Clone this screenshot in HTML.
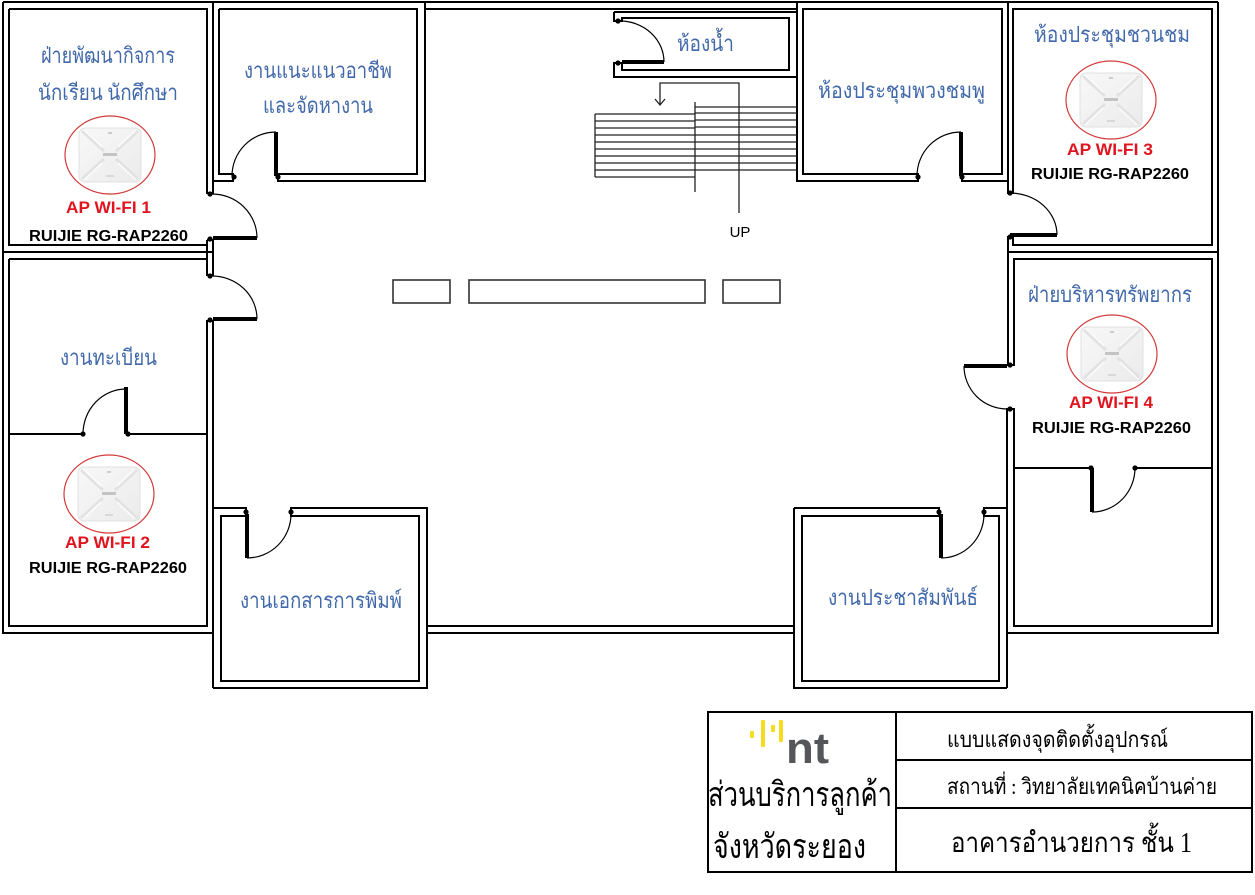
<!DOCTYPE html>
<html>
<head>
<meta charset="utf-8">
<style>
  html,body{margin:0;padding:0;background:#fff;}
  svg{display:block;}
  .th{font-family:"Liberation Serif","DejaVu Serif","Noto Serif CJK SC",serif;fill:#4169aa;font-size:22px;}
  .tb{font-family:"Liberation Serif","DejaVu Serif","Noto Serif CJK SC",serif;fill:#000;}
  .ap{font-family:"Liberation Sans",sans-serif;font-weight:bold;fill:#e0141e;font-size:17px;}
  .rj{font-family:"Liberation Sans",sans-serif;font-weight:bold;fill:#000;font-size:16px;}
</style>
</head>
<body>
<svg width="1255" height="895" viewBox="0 0 1255 895" xmlns="http://www.w3.org/2000/svg">
  <rect width="1255" height="895" fill="#fff"/>

  <!-- walls -->
  <path fill="none" stroke="#000" stroke-width="2" d="
    M3 2 H1218
    M3 2 V633 H213
    M1218 2 V633 H1007
    M9 9 H207 V193 H213 V2
    M9 9 V245 H207
    M3 252 H213
    M207 240 V275 H213 V240 H207
    M9 259 H207
    M9 259 V626 H207 V321 H213
    M213 321 V688
    M9 434 H83
    M128 434 H207
    M219 9 H417 V174 H278 V181 H425 V2
    M219 9 V174 H233 V181 H213
    M425 9 H797
    M614 12 H797
    M614 12 V21 H622 V18 H789 V70 H622 V63 H614 V77 H797
    M797 2 V181 H918 V174 H803 V9 H1002 V174 H962 V181 H1008 V2
    M1008 181 V193 H1013 V9 H1212 V245 H1013 V237 H1008 V365 H1014 V259 H1212 V626 H1014 V409 H1007 V688
    M1008 252 H1218
    M1014 468 H1091
    M1135 468 H1212
    M794 508 V688 H1007
    M794 508 H939 V516 H802 V681 H999 V516 H984 V508 H1007
    M213 688 H427 V508 H291 V516 H419 V681 H221 V516 H246 V508 H213
    M427 626 H794
    M427 633 H794
  "/>

  <!-- door leaves -->
  <path fill="none" stroke="#000" stroke-width="4" d="
    M213 238 H257 M213 319 H257 M276 132 V176 M961 132 V176 M622 62 H664
    M1010 235 H1057 M964 366 H1007 M126 387 V434 M1092 468 V512 M247 514 V558 M941 514 V558"/>

  <!-- door arcs -->
  <path fill="none" stroke="#000" stroke-width="1.2" d="
    M212 194 A45 44 0 0 1 257 238
    M212 276 A45 43 0 0 1 257 319
    M276 132 A44 44 0 0 0 232 176
    M961 132 A44 44 0 0 0 917 176
    M620 21 A44 41 0 0 1 664 62
    M1010 193 A47 42 0 0 1 1057 235
    M964 366 A43 43 0 0 0 1007 409
    M126 389 A43 45 0 0 0 83 434
    M1092 512 A43 44 0 0 0 1135 468
    M247 558 A44 44 0 0 0 291 514
    M941 558 A43 44 0 0 0 984 514"/>

  <!-- door hinge dots -->
  <g fill="#000">
    <circle cx="210" cy="194" r="2.6"/><circle cx="210" cy="239" r="2.6"/>
    <circle cx="210" cy="276" r="2.6"/><circle cx="210" cy="320" r="2.6"/>
    <circle cx="234" cy="177" r="2.6"/><circle cx="278" cy="177" r="2.6"/>
    <circle cx="618" cy="21" r="2.6"/><circle cx="618" cy="63" r="2.6"/>
    <circle cx="918" cy="177" r="2.6"/><circle cx="962" cy="177" r="2.6"/>
    <circle cx="1010" cy="193" r="2.6"/><circle cx="1010" cy="237" r="2.6"/>
    <circle cx="1010" cy="365" r="2.6"/><circle cx="1010" cy="409" r="2.6"/>
    <circle cx="83" cy="434" r="2.6"/><circle cx="128" cy="434" r="2.6"/>
    <circle cx="1091" cy="468" r="2.6"/><circle cx="1135" cy="468" r="2.6"/>
    <circle cx="246" cy="512" r="2.6"/><circle cx="291" cy="512" r="2.6"/>
    <circle cx="939" cy="512" r="2.6"/><circle cx="984" cy="512" r="2.6"/>
  </g>

  <!-- stairs -->
  <path fill="none" stroke="#222" stroke-width="1.3" d="
    M595 114 H695 M595 121 H695 M595 128 H695 M595 135 H695 M595 142 H695
    M595 149 H695 M595 156 H695 M595 163 H695 M595 170 H695 M595 177 H695
    M595 114 V177
    M695 107 H797 M695 113 H797 M695 120 H797 M695 127 H797 M695 135 H797
    M695 142 H797 M695 149 H797 M695 156 H797 M695 163 H797 M695 170 H797
    M695 102 V192
    M739 213 V83 H660 V105
    M655 99 L660 105 L665 99"/>
  <text x="740" y="237" text-anchor="middle" font-family="Liberation Sans, sans-serif" font-size="15" fill="#000">UP</text>

  <!-- lobby boxes -->
  <g fill="#fff" stroke="#333" stroke-width="1.6">
    <rect x="393" y="280" width="57" height="23"/>
    <rect x="469" y="280" width="236" height="23"/>
    <rect x="723" y="280" width="57" height="23"/>
  </g>

  <!-- room labels -->
  <text class="th" x="41" y="63" textLength="134" lengthAdjust="spacingAndGlyphs">ฝ่ายพัฒนากิจการ</text>
  <text class="th" x="38" y="100" textLength="140" lengthAdjust="spacingAndGlyphs">นักเรียน นักศึกษา</text>
  <text class="th" x="244" y="78" textLength="148" lengthAdjust="spacingAndGlyphs">งานแนะแนวอาชีพ</text>
  <text class="th" x="263" y="113" textLength="110" lengthAdjust="spacingAndGlyphs">และจัดหางาน</text>
  <text class="th" x="677" y="51" textLength="57" lengthAdjust="spacingAndGlyphs">ห้องน้ำ</text>
  <text class="th" x="818" y="98" textLength="167" lengthAdjust="spacingAndGlyphs">ห้องประชุมพวงชมพู</text>
  <text class="th" x="1034" y="42" textLength="156" lengthAdjust="spacingAndGlyphs">ห้องประชุมชวนชม</text>
  <text class="th" x="1028" y="302" textLength="164" lengthAdjust="spacingAndGlyphs">ฝ่ายบริหารทรัพยากร</text>
  <text class="th" x="60" y="365" textLength="97" lengthAdjust="spacingAndGlyphs">งานทะเบียน</text>
  <text class="th" x="240" y="608" textLength="162" lengthAdjust="spacingAndGlyphs">งานเอกสารการพิมพ์</text>
  <text class="th" x="828" y="605" textLength="150" lengthAdjust="spacingAndGlyphs">งานประชาสัมพันธ์</text>

  <!-- AP icon template -->
  <defs>
    <linearGradient id="apg" x1="0" y1="0" x2="1" y2="1">
      <stop offset="0" stop-color="#f8f8f8"/>
      <stop offset="1" stop-color="#ebebeb"/>
    </linearGradient>
    <g id="apicon">
      <ellipse cx="0" cy="0" rx="45" ry="39" fill="#fff" stroke="#d33a3a" stroke-width="1.2"/>
      <rect x="-31" y="-27" width="62" height="54" rx="6" fill="url(#apg)" stroke="#e0e0e0" stroke-width="1"/>
      <path d="M-28 -24 L-6 -4 M28 -24 L6 -4 M-28 24 L-6 4 M28 24 L6 4" stroke="#e2e2e2" stroke-width="3" fill="none"/>
      <path d="M-26 -25 L-8 -8 M26 -25 L8 -8 M-26 25 L-8 8 M26 25 L8 8" stroke="#fcfcfc" stroke-width="1.5" fill="none"/>
      <rect x="-7" y="-2" width="14" height="3" fill="#c4c4c4"/>
      <rect x="-2" y="-23" width="4" height="2" fill="#cccccc"/>
      <rect x="-4" y="20" width="8" height="2" fill="#d8d8d8"/>
    </g>
  </defs>

  <use href="#apicon" x="110" y="155"/>
  <text class="ap" x="66" y="213" textLength="85" lengthAdjust="spacingAndGlyphs">AP WI-FI 1</text>
  <text class="rj" x="29" y="241" textLength="159" lengthAdjust="spacingAndGlyphs">RUIJIE RG-RAP2260</text>

  <use href="#apicon" x="109" y="494"/>
  <text class="ap" x="65" y="548" textLength="85" lengthAdjust="spacingAndGlyphs">AP WI-FI 2</text>
  <text class="rj" x="29" y="573" textLength="158" lengthAdjust="spacingAndGlyphs">RUIJIE RG-RAP2260</text>

  <use href="#apicon" x="1111" y="100"/>
  <text class="ap" x="1067" y="155" textLength="86" lengthAdjust="spacingAndGlyphs">AP WI-FI 3</text>
  <text class="rj" x="1031" y="179" textLength="158" lengthAdjust="spacingAndGlyphs">RUIJIE RG-RAP2260</text>

  <use href="#apicon" x="1112" y="354"/>
  <text class="ap" x="1069" y="408" textLength="84" lengthAdjust="spacingAndGlyphs">AP WI-FI 4</text>
  <text class="rj" x="1032" y="433" textLength="159" lengthAdjust="spacingAndGlyphs">RUIJIE RG-RAP2260</text>

  <!-- title block -->
  <g fill="none" stroke="#000" stroke-width="2">
    <rect x="708" y="712" width="544" height="160"/>
    <path d="M896 712 V872 M896 760 H1252 M896 808 H1252"/>
  </g>

  <!-- logo -->
  <g fill="#f5dc1e">
    <rect x="750" y="731" width="4" height="7" rx="1"/>
    <rect x="761" y="720" width="4" height="27" rx="1"/>
    <rect x="771" y="725" width="4" height="7" rx="1"/>
    <rect x="779" y="720" width="4" height="22" rx="1"/>
  </g>
  <text x="786" y="763" font-family="Liberation Sans, sans-serif" font-weight="bold" font-size="44" fill="#54565a" textLength="43" lengthAdjust="spacingAndGlyphs">nt</text>

  <text class="tb" x="708" y="806" font-size="34" textLength="184" lengthAdjust="spacingAndGlyphs">ส่วนบริการลูกค้า</text>
  <text class="tb" x="713" y="858" font-size="34" textLength="153" lengthAdjust="spacingAndGlyphs">จังหวัดระยอง</text>
  <text class="tb" x="947" y="747" font-size="22" textLength="221" lengthAdjust="spacingAndGlyphs">แบบแสดงจุดติดตั้งอุปกรณ์</text>
  <text class="tb" x="947" y="794" font-size="22" textLength="270" lengthAdjust="spacingAndGlyphs">สถานที่ : วิทยาลัยเทคนิคบ้านค่าย</text>
  <text class="tb" x="951" y="852" font-size="28" textLength="241" lengthAdjust="spacingAndGlyphs">อาคารอำนวยการ ชั้น 1</text>
</svg>
</body>
</html>
